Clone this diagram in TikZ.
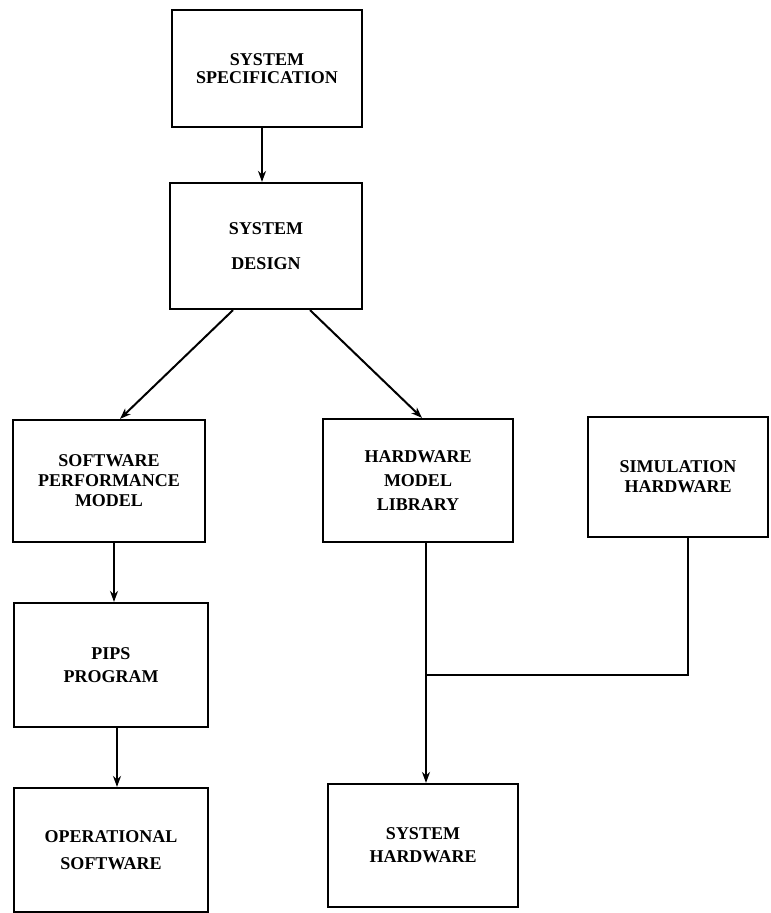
\documentclass[tikz,border=0pt]{standalone}
\usepackage{fontspec}
\setmainfont{Liberation Serif}
\usetikzlibrary{arrows.meta}
\tikzstyle{block} = [draw,rectangle,line width=2.2pt,align=center,font=\fontsize{18}{20}\selectfont\bfseries,inner sep=2pt]
\tikzstyle{line}  = [draw,line width=2pt]
\tikzstyle{arrow} = [line,-{Stealth[length=11pt,width=8pt]}]

\begin{document}
\begin{tikzpicture}[x=1pt,y=-1pt]
			\useasboundingbox (0,0) rectangle (771,913);
			\node [block,minimum width=190pt,minimum height=117pt] (spec) at (267,68.5) {SYSTEM\\[-2pt]SPECIFICATION};
			\node [block,minimum width=192pt,minimum height=126pt] (design) at (266,246) {SYSTEM\\[15pt]DESIGN};
			
			\node [block,minimum width=192pt,minimum height=122pt] (sw model) at (109,481) {SOFTWARE\\PERFORMANCE\\MODEL};
			\node [block,minimum width=190pt,minimum height=123pt] (hw lib) at (418,480.5) {HARDWARE\\[4pt]MODEL\\[4pt]LIBRARY};
			\node [block,minimum width=180pt,minimum height=120pt] (sim hw) at (678,477) {SIMULATION\\HARDWARE};
			
			\node [block,minimum width=194pt,minimum height=124pt] (pips) at (111,665) {PIPS\\[3pt]PROGRAM};
			\node [block,minimum width=194pt,minimum height=124pt] (op sw) at (111,850) {OPERATIONAL\\[7pt]SOFTWARE};
			\node [block,minimum width=190pt,minimum height=123pt] (sys hw) at (423,845.5) {SYSTEM\\[3pt]HARDWARE};
			
			\coordinate (join) at (426,675);
			
			\draw [arrow] ([xshift=-5pt]spec.south) -- ([xshift=-4pt]design.north);
			\draw [arrow] ([xshift=-33pt]design.south) -- ([xshift=11pt]sw model.north);
			\draw [arrow] ([xshift=44pt]design.south) -- ([xshift=4pt]hw lib.north);
			\draw [arrow] ([xshift=5pt]sw model.south) -- ([xshift=3pt]pips.north);
			\draw [arrow] ([xshift=6pt]pips.south) -- ([xshift=6pt]op sw.north);
			\draw [line] ([xshift=8pt]hw lib.south) -- (join);
			\draw [line] ([xshift=10pt]sim hw.south) |- (join);
			\draw [arrow] (join) -- ([xshift=3pt]sys hw.north);
\end{tikzpicture}
\end{document}
